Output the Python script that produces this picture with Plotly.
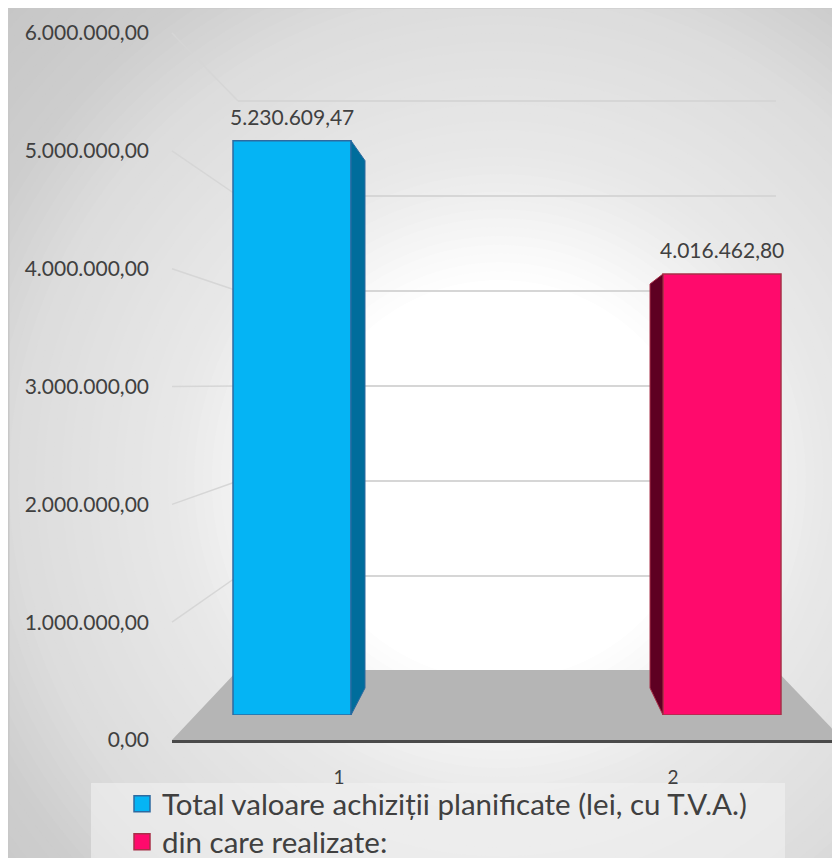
import plotly.graph_objects as go
import numpy as np

# ---------------- data ----------------
categories = [1, 2]
category_labels = ["1", "2"]
series_names = ["Total valoare achiziții planificate (lei, cu T.V.A.)", "din care realizate:"]
series_values = [5230609.47, 4016462.80]
y_ticks = [0, 1000000, 2000000, 3000000, 4000000, 5000000, 6000000]

# ---------------- geometry (page pixels; page body has an 8px offset) ----------------
W, H = 840, 858
OFF = 8
def fx(px): return (px - OFF) / W
def fy(py): return 1 - (py - OFF) / H

X_LEFT, X_RIGHT = 172, 848
FRONT_Y0, FRONT_Y6 = 740, 33
BAR_Y0, BAR_PPM = 715, 109.8
BAR_TOP_PX = 56
BACK_Y0, BACK_Y6 = 671, 101
BACK_XL, BACK_XR = 238, 776
BACK_TOP_VAL = 6.08e6
BACK_TOP_PX = BACK_Y0 - (BACK_Y0 - BACK_Y6) * BACK_TOP_VAL / 6e6
BAR_C1, BAR_C2, BAR_W = 292, 722, 118
UNIT = BAR_C2 - BAR_C1
xr0 = 1 - (BAR_C1 - X_LEFT) / UNIT
xr1 = 2 + (X_RIGHT - BAR_C2) / UNIT
bar_width = BAR_W / UNIT
bar_range_top = (BAR_Y0 - BAR_TOP_PX) / BAR_PPM * 1e6
px_per_val = BAR_PPM / 1e6
lbl_cat = (840 - X_LEFT) / 2          # pixel width of one category on the label axis
lbl_r1 = 0.5 + (X_RIGHT - X_LEFT) / lbl_cat
LEGEND_ROWS = [804, 842]

front_colors = ["#05b4f4", "#ff0a6c"]
border_colors = ["#2e6aa0", "#a83048"]
side_colors = ["#006d9c", "#5e0022"]
TXT = "#404040"
FONT = "Lato"

def fmt(v):
    s = f"{v:,.2f}"
    return s.replace(",", "X").replace(".", ",").replace("X", ".")

fig = go.Figure()

# back-wall grid subplot first (drawn underneath), then label axes
fig.add_trace(go.Scatter(x=[None], y=[None], xaxis="x", yaxis="y", showlegend=False, hoverinfo="skip"))
fig.add_trace(go.Scatter(x=[None], y=[None], xaxis="x2", yaxis="y2", showlegend=False, hoverinfo="skip"))

legend_ids = ["legend", "legend2"]
for i in range(2):
    fig.add_trace(go.Bar(
        x=[categories[i]], y=[series_values[i]], name=series_names[i],
        width=bar_width, xaxis="x3", yaxis="y3", legendgroup=f"s{i}", showlegend=False,
        marker=dict(color=front_colors[i], line=dict(color=border_colors[i], width=1.5)),
        hoverinfo="skip",
    ))
    # legend entry (bigger square swatch), tied to the bar by legendgroup
    fig.add_trace(go.Scatter(
        x=[None], y=[None], name=series_names[i], mode="markers", xaxis="x3", yaxis="y3",
        legendgroup=f"s{i}", showlegend=True, legend=legend_ids[i],
        marker=dict(symbol="square", size=18, color=front_colors[i],
                    line=dict(color=border_colors[i], width=1.5)),
    ))

shapes = []
# ---- background radial gradient ----
cx, cy = 500, 480
stops_d = [0, 200, 320, 490, 570, 720]
stops_g = [255, 255, 233, 220, 206, 196]
shapes.append(dict(type="rect", xref="paper", yref="paper", x0=0, x1=1, y0=0, y1=1,
                   fillcolor="rgb(196,196,196)", line=dict(width=0), layer="below"))
N = 60
for r in np.linspace(720, 200, N):
    g = int(round(np.interp(r, stops_d, stops_g)))
    shapes.append(dict(type="circle", xref="paper", yref="paper",
                       x0=fx(cx - r), x1=fx(cx + r), y0=fy(cy + r), y1=fy(cy - r),
                       fillcolor=f"rgb({g},{g},{g})", line=dict(width=0), layer="below"))
shapes.append(dict(type="path", xref="paper", yref="paper",
                   path=f"M{fx(8.5)},{fy(870)} L{fx(8.5)},{fy(7.5)} L{fx(850)},{fy(7.5)}",
                   line=dict(color="#c8c8c8", width=2), layer="below"))

# ---- floor ----
shapes.append(dict(type="path", xref="paper", yref="paper",
                   path=f"M{fx(172)},{fy(740)} L{fx(BACK_XL)},{fy(670)} L{fx(BACK_XR)},{fy(670)} L{fx(845)},{fy(742)} Z",
                   fillcolor="#b5b5b5", line=dict(width=0), layer="below"))

# ---- left wall gridlines (front tick -> back wall) ----
for v in y_ticks[1:]:
    yf = FRONT_Y0 - (FRONT_Y0 - FRONT_Y6) * v / 6e6
    yb = BACK_Y0 - (BACK_Y0 - BACK_Y6) * v / 6e6
    shapes.append(dict(type="line", xref="paper", yref="paper",
                       x0=fx(X_LEFT), y0=fy(yf), x1=fx(BACK_XL), y1=fy(yb),
                       line=dict(color="#d6d6d6", width=1.5), layer="below"))

# ---- legend background ----
shapes.append(dict(type="rect", xref="paper", yref="paper",
                   x0=fx(91), x1=fx(785), y0=fy(870), y1=fy(783),
                   fillcolor="rgba(242,242,242,0.6)", line=dict(width=0), layer="below"))

# ---- bar side faces (3D effect) ----
dx1 = 14 / UNIT
x_edge = categories[0] + bar_width / 2
v = series_values[0]
shapes.append(dict(type="path", xref="x3", yref="y3",
                   path=f"M{x_edge},0 L{x_edge},{v} L{x_edge+dx1},{v - 20/px_per_val} L{x_edge+dx1},{27/px_per_val} Z",
                   fillcolor=side_colors[0], line=dict(color=border_colors[0], width=1)))
dx2 = 13 / UNIT
x_edge = categories[1] - bar_width / 2
v = series_values[1]
shapes.append(dict(type="path", xref="x3", yref="y3",
                   path=f"M{x_edge},0 L{x_edge},{v} L{x_edge-dx2},{v - 10/px_per_val} L{x_edge-dx2},{27/px_per_val} Z",
                   fillcolor=side_colors[1], line=dict(color=border_colors[1], width=1)))

annotations = []
for i in range(2):
    annotations.append(dict(x=categories[i], y=series_values[i], xref="x3", yref="y3",
                            text=fmt(series_values[i]), showarrow=False, yshift=24,
                            font=dict(family=FONT, size=21, color=TXT)))

legend_style = dict(xanchor="left", yanchor="middle", bgcolor="rgba(0,0,0,0)", borderwidth=0,
                    font=dict(family=FONT, size=29.5, color=TXT),
                    indentation=31, itemwidth=30, tracegroupgap=0, itemsizing="trace")

fig.update_layout(
    width=W, height=H,
    margin=dict(l=0, r=0, t=0, b=0, autoexpand=False),
    paper_bgcolor="white", plot_bgcolor="rgba(0,0,0,0)",
    separators=",.",
    font=dict(family=FONT, color=TXT),
    showlegend=True,
    barmode="overlay",
    shapes=shapes, annotations=annotations,
    # back wall grid
    xaxis=dict(domain=[fx(BACK_XL), fx(BACK_XR)], range=[0, 1], visible=False, anchor="y"),
    yaxis=dict(domain=[fy(BACK_Y0), fy(BACK_TOP_PX)], range=[0, BACK_TOP_VAL], anchor="x",
               tickvals=y_ticks[1:], showgrid=True, gridcolor="#d6d6d6", gridwidth=1.5,
               showticklabels=False, zeroline=False, showline=False, ticks=""),
    # front labelled axes
    xaxis2=dict(domain=[fx(X_LEFT), 1], range=[0.5, lbl_r1], anchor="y2",
                tickvals=categories, ticktext=category_labels, showgrid=False, zeroline=False,
                showline=True, linecolor="#4a4a4a", linewidth=3, ticks="",
                ticklabelstandoff=18, tickfont=dict(family=FONT, size=19, color=TXT)),
    yaxis2=dict(domain=[fy(FRONT_Y0), fy(FRONT_Y6)], range=[0, 6e6], anchor="x2",
                tickvals=y_ticks, tickformat=",.2f", showgrid=False, zeroline=False,
                showline=False, ticks="", ticklabelstandoff=22,
                tickfont=dict(family=FONT, size=21, color=TXT)),
    # bars
    xaxis3=dict(domain=[fx(X_LEFT), 1], range=[xr0, xr1], visible=False, anchor="y3"),
    yaxis3=dict(domain=[fy(BAR_Y0), fy(BAR_TOP_PX)], range=[0, bar_range_top], visible=False, anchor="x3"),
    legend=dict(x=fx(91), y=fy(LEGEND_ROWS[0]), **legend_style),
    legend2=dict(x=fx(91), y=fy(LEGEND_ROWS[1]), **legend_style),
)

fig.write_html("out.html")
